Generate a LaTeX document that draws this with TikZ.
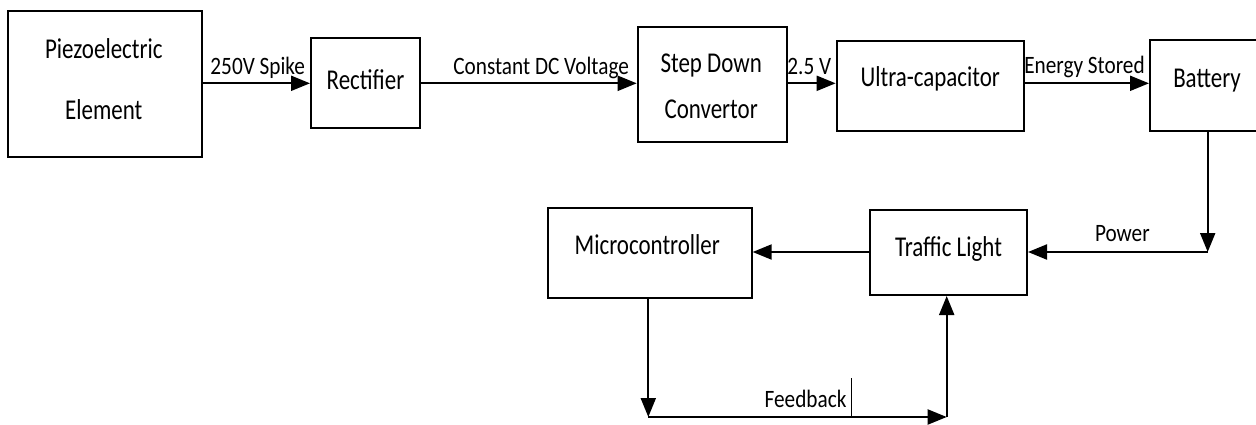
\documentclass[tikz,border=0pt]{standalone}
\usepackage{fontspec}
\setmainfont{Carlito}[FakeStretch=0.8]
\newfontfamily\labfont{Carlito}[FakeStretch=0.85]
\usetikzlibrary{arrows.meta}
\begin{document}
\begin{tikzpicture}[x=1pt,y=-1pt,
 box/.style={draw, line width=2pt, inner sep=0pt, align=center, font=\fontsize{28.7}{30}\selectfont, text height=18pt},
 boxtext/.style={inner sep=0pt, align=center},
 lab/.style={font=\labfont\fontsize{25}{28}\selectfont, inner sep=0pt, anchor=base},
 conn/.style={line width=2pt, -{Triangle[length=19pt,width=15pt]}},
 wire/.style={line width=1.4pt}]
\useasboundingbox (0,0) rectangle (1256,424);
% boxes
\node[box, minimum width=194pt, minimum height=146.6pt] (piezo) at (105.3,84) {};
\node[boxtext, font=\fontsize{28.7}{61.5}\selectfont] (piezotext) at ([xshift=-1.5pt,yshift=5pt]piezo.center) {Piezoelectric\\Element};
\node[box, minimum width=109pt, minimum height=90pt, text depth=6pt] (rect) at (365.5,83.3) {Rectifier};
\node[box, minimum width=149pt, minimum height=114.4pt] (step) at (712.2,84.5) {};
\node[boxtext, font=\fontsize{28.7}{46}\selectfont] (steptext) at ([xshift=-1pt,yshift=-2pt]step.center) {Step Down\\Convertor};
\node[box, minimum width=187.3pt, minimum height=90.3pt, text depth=16pt] (ultra) at (930.3,85.8) {Ultra-capacitor};
\node[box, minimum width=114pt, minimum height=91pt, text depth=15pt] (battery) at (1207,85.5) {Battery};
\node[box, minimum width=157pt, minimum height=85pt, text depth=10pt] (traffic) at (948.5,252.5) {Traffic Light};
\node[box, minimum width=203.7pt, minimum height=90pt, text depth=15pt] (micro) at (649.8,253) {\hspace*{-5pt}Microcontroller};

\coordinate (c1) at (1207.7,252);
\coordinate (c2) at (648.3,417);
\coordinate (c3) at (946.7,417);

\draw[conn] (piezo.east |- 0,83.3) -- node[lab, pos=0.51, yshift=9pt] (l1) {250V Spike} (rect.west |- 0,83.3);
\draw[conn] (rect.east |- 0,83.3) -- node[lab, pos=0.557, yshift=9pt] (l2) {Constant DC Voltage} (step.west |- 0,83.3);
\draw[conn] (step.east |- 0,83.3) -- node[lab, pos=0.45, yshift=9pt] (l3) {2.5 V} (ultra.west |- 0,83.3);
\draw[conn] (ultra.east |- 0,83.3) -- node[lab, pos=0.48, yshift=10pt] (l4) {Energy Stored} (battery.west |- 0,83.3);
\draw[conn] (battery.south -| c1) -- (c1);
\draw[conn] (c1) -- node[lab, pos=0.475, yshift=11pt] (l5) {Power} (traffic.east |- c1);
\draw[conn] (traffic.west |- c1) -- (micro.east |- c1);
\draw[conn] (micro.south -| c2) -- (c2);
\draw[conn] (c2) -- node[lab, pos=0.527, yshift=10pt] (l6) {Feedback} (c3);
\draw[conn] (c3) -- (traffic.south -| c3);
\coordinate (bar) at (851.7,378);
\draw[wire] (bar) -- (bar |- c3);
\end{tikzpicture}
\end{document}
